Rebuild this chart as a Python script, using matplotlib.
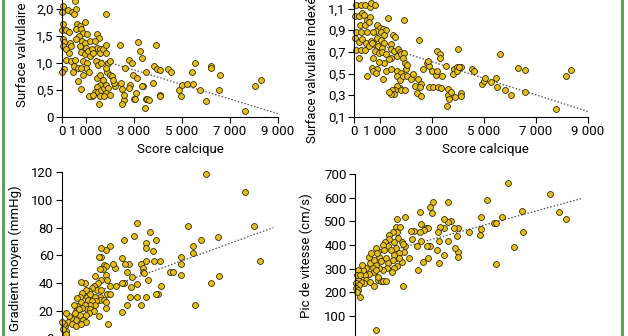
import matplotlib
matplotlib.use("Agg")
import matplotlib.pyplot as plt
from matplotlib.lines import Line2D

plt.rcParams['font.family'] = ['Roboto', 'DejaVu Sans']

# Surface valvulaire vs score calcique
score_sa = [40, 10, 40, 10, 40, 70, 40, 180, 80, 10,
            250, 430, 530, 570, 500, 180, 280, 320, 390, 180, 290, 390, 530, 490, 460,
            670, 670, 810, 630, 740, 570, 810, 880, 950, 710, 600, 850, 740, 950, 1020,
            810, 950, 1050, 1160, 1090, 1160, 880, 1050, 990, 1130, 810, 880,
            1460, 1550, 1370, 1440, 1600, 1270, 1300, 1570, 1710, 1850, 1830, 1850, 1410, 1500, 1640,
            1920, 1990, 1880, 1830, 1990, 2100, 1440, 1570, 1710, 1570, 1440, 1370, 1500, 1640, 1740,
            1850, 1920, 1850, 1570, 1230, 1130, 1300, 1740, 1550, 1990, 2200, 2160, 2130,
            2410, 2440, 2520, 2620, 2580, 2510, 2590, 2800, 2830, 2800, 2900, 2940, 3000, 3040, 3080,
            3110, 3180, 3250, 3320, 3390, 3320, 3500, 3520, 3550, 3470, 3610, 3800, 3910, 3830, 3940,
            4080, 4080, 4080,
            4430, 4530, 4890, 4950, 5000, 5200, 5450, 5410, 5560, 5750, 5990,
            6200, 6200, 6590, 6550, 7630, 8050, 8290]
sa = [2.06, 1.95, 1.72, 1.60, 1.45, 1.39, 1.31, 1.06, 0.88, 0.84,
      1.97, 1.94, 2.14, 2.00, 1.90, 1.60, 1.57, 1.37, 1.31, 1.25, 1.19, 1.03, 1.06, 0.94, 0.84,
      0.91, 0.66, 0.51, 1.72, 1.69, 1.63, 1.63, 1.56, 1.76, 1.50, 1.44, 1.41, 1.31, 1.37, 1.28,
      1.20, 1.16, 1.53, 1.41, 1.22, 1.13, 1.03, 1.00, 0.91, 0.84, 0.91, 0.78,
      1.54, 1.47, 1.41, 1.28, 1.26, 1.26, 1.19, 1.19, 1.25, 1.34, 1.19, 1.91, 1.03, 0.97, 1.00,
      1.00, 1.03, 0.84, 0.91, 0.78, 0.76, 0.72, 0.78, 0.69, 0.59, 0.56, 0.47, 0.47, 0.50, 0.53,
      0.59, 0.53, 0.44, 0.38, 0.38, 0.38, 0.41, 0.38, 0.24, 0.41, 0.58, 0.63, 0.69,
      1.34, 0.63, 0.51, 0.91, 0.31, 0.24, 0.41, 1.06, 0.59, 0.53, 1.00, 0.78, 0.34, 0.33, 0.45,
      0.72, 1.39, 1.22, 1.09, 0.58, 0.58, 0.84, 0.33, 0.34, 0.17, 0.31, 0.63, 1.34, 0.94, 0.88,
      0.86, 0.41, 0.38,
      0.88, 0.84, 0.49, 0.38, 0.59, 0.61, 0.61, 0.83, 1.00, 0.50, 0.30,
      0.94, 0.91, 0.78, 0.49, 0.11, 0.58, 0.69]
sa_fit_x = [1000, 9000]
sa_fit_y = [1.14, 0.06]

# Surface valvulaire indexée vs score calcique
score_sai = [60, 260, 410, 620, 670, 800,
             40, 190, 320, 390, 510, 620, 1310, 1920,
             230, 410, 580, 870, 1000, 1130, 1220, 830, 1030,
             60, 260, 510, 740, 1150, 1510, 1560, 30, 190, 320, 450, 640, 900, 1030, 1150,
             770, 920, 1090, 2500,
             60, 260, 410, 580, 710, 800, 960, 1090, 1220, 1410, 1440, 1540, 1690, 1770, 1670,
             1820, 1920, 1900, 1950, 1440, 1350, 1150, 960, 720, 190, 3210, 3310, 3310, 4000,
             710, 900, 740, 830, 1220, 1440, 1670, 1820, 510, 1130, 1640, 1770, 1900, 2050,
             2180, 2270, 1990, 2050, 1770, 1640, 1560, 1470, 1820, 1950, 1540, 1440, 1350,
             2330, 2460, 2560, 2540, 2440, 2590, 2670, 2800, 2890, 3010, 2850, 2890, 3050, 3230,
             3330, 3140, 3180, 3400, 3530, 3620, 3620, 3560, 3720, 3650, 3850, 3870, 3970, 4100,
             3820, 4100, 4100, 3950, 4040, 4550, 4620,
             4940, 5000, 5030, 5260, 5450, 5510, 5620, 5800, 6050, 6310, 6560, 6560, 7780, 8140,
             8330]
sai = [1.13, 1.13, 1.13, 1.11, 1.15, 1.13,
       1.03, 1.03, 1.06, 1.04, 0.99, 1.02, 1.01, 0.99,
       0.95, 0.95, 0.98, 0.95, 0.92, 0.91, 0.90, 0.89, 0.88,
       0.88, 0.88, 0.88, 0.88, 0.86, 0.86, 0.84, 0.83, 0.79, 0.82, 0.78, 0.80, 0.83, 0.81, 0.78,
       0.77, 0.75, 0.74, 0.81,
       0.72, 0.72, 0.72, 0.75, 0.78, 0.71, 0.69, 0.70, 0.68, 0.77, 0.73, 0.71, 0.73, 0.70, 0.66,
       0.68, 0.69, 0.64, 0.60, 0.64, 0.63, 0.60, 0.61, 0.64, 0.64, 0.71, 0.68, 0.64, 0.73,
       0.55, 0.54, 0.52, 0.51, 0.52, 0.54, 0.52, 0.51, 0.48, 0.45, 0.48, 0.44, 0.48, 0.48,
       0.45, 0.50, 0.54, 0.58, 0.37, 0.39, 0.35, 0.35, 0.35, 0.35, 0.31, 0.31, 0.33,
       0.39, 0.45, 0.40, 0.38, 0.32, 0.29, 0.54, 0.60, 0.57, 0.52, 0.62, 0.38, 0.38, 0.38,
       0.37, 0.49, 0.52, 0.48, 0.57, 0.36, 0.30, 0.20, 0.33, 0.27, 0.54, 0.28, 0.56, 0.56,
       0.50, 0.32, 0.29, 0.52, 0.56, 0.54, 0.52,
       0.40, 0.43, 0.46, 0.42, 0.46, 0.38, 0.68, 0.35, 0.30, 0.55, 0.53, 0.33, 0.17, 0.48,
       0.53]
sai_fit_x = [900, 9000]
sai_fit_y = [0.77, 0.15]

# Gradient moyen vs score calcique
score_grad = [5990, 7630, 7980, 8260, 5240, 6520, 5780, 5450, 5470, 4950, 4950, 4950, 6200,
              6560, 5540, 4500, 4610,
              3110, 3660, 3910, 3480, 3010, 2580, 3800, 3500, 4080, 3830, 3520, 3290, 3390, 3390,
              3410, 3590, 4110, 4010, 3910, 3520, 3130, 3290, 3130, 2860, 2900, 2830, 2690, 2480,
              2690, 2800, 2480, 2620, 2580, 2520, 2200, 2130, 2240,
              1990, 1850, 1620, 1640, 1550, 1740, 1830, 1710, 1570, 1850, 1640, 1880, 2020, 1370,
              1500, 1320, 1440, 1640, 1880, 2020, 1600, 1370, 1570, 1410, 1740, 1850, 1830, 1920,
              1550, 1270, 1130, 1050, 1180, 1090, 1230, 1370, 1160,
              950, 810, 990, 850, 740, 630, 810, 950, 1050, 1180, 1320, 1130, 990, 850, 630, 490,
              570, 740, 880, 1020, 600, 390, 290, 150, 250, 430, 600, 810, 110, 180, 70, 150, 530,
              710, 40, 20]
grad = [119, 106, 81, 56, 81, 73, 71, 67, 62, 59, 54, 46, 40,
        45, 24, 48, 48,
        83, 77, 71, 69, 74, 71, 63, 65, 56, 56, 56, 54, 51, 48,
        47, 42, 38, 32, 32, 30, 30, 24, 39, 37, 44, 30, 24, 19,
        48, 54, 58, 54, 40, 40, 51, 54, 38,
        67, 64, 65, 59, 59, 53, 52, 50, 50, 46, 42, 42, 38, 45,
        40, 38, 35, 35, 32, 32, 30, 30, 28, 27, 28, 26, 22, 10,
        16, 36, 34, 30, 32, 28, 27, 24, 24,
        40, 41, 35, 33, 30, 29, 26, 24, 21, 21, 20, 18, 17, 22, 23, 24,
        20, 17, 13, 12, 13, 15, 16, 18, 12, 10, 9, 10, 9, 5, 10, 3, 18,
        21, 7, 12]
grad_fit_x = [1500, 8800]
grad_fit_y = [34, 80]

# Pic de vitesse vs score calcique
score_vmax = [5870, 7510, 7860, 8120, 6410, 6470, 6130, 5420, 5080, 4850, 4850, 4820, 5360, 5420,
              5650, 4400, 3970, 3920, 3950, 3970, 3860, 3800, 3690, 3560, 3560, 3560, 3440, 3410,
              3280, 3240, 3210, 3440, 3140, 3240,
              2990, 2900, 2950, 2730, 2800, 2670, 2540, 2510, 2510, 2860, 2800, 2900, 2770, 2540,
              2380, 2410, 2600, 2280, 2150, 2180, 1920, 1920, 1800, 1870, 2090, 1830,
              1620, 1580, 1740, 1620, 1670, 1490, 1580, 1710, 1580, 1800, 1620, 1710, 1450, 1320,
              1320, 1150, 1260, 1380, 1490, 1450, 1490, 1410, 1060, 1100, 940, 870, 810, 850, 1000,
              1190, 1280, 1230, 1060, 940,
              810, 680, 590, 740, 550, 620, 720, 550, 390, 420, 300, 260, 100, 420, 590, 360, 230,
              100, 80, 210, 40, 170, 40, 130, 210, 870, 1000, 1060, 1190, 720, 1830, 80, 810, 810,
              870]
vmax = [661, 616, 541, 510, 544, 454, 392, 318, 590, 520, 468, 442, 492, 492,
        520, 454, 473, 440, 372, 351, 386, 473, 501, 498, 417, 580, 473, 510,
        478, 417, 456, 358, 379, 323,
        580, 562, 534, 470, 473, 463, 487, 541, 456, 397, 344, 397, 397, 417,
        397, 294, 330, 459, 459, 425, 520, 397, 411, 372, 347, 403,
        510, 478, 478, 456, 428, 411, 389, 365, 344, 327, 313, 347, 456, 442,
        425, 414, 397, 379, 358, 337, 302, 287, 400, 379, 351, 375, 389, 365, 333,
        344, 323, 302, 294, 305,
        316, 302, 323, 337, 351, 365, 288, 277, 274, 302, 294, 316, 294, 252, 245, 238, 245,
        259, 274, 274, 238, 231, 220, 210, 182, 252, 249, 249, 248, 228, 228, 203, 42, 294,
        266]
vmax_fit_x = [1500, 8760]
vmax_fit_y = [380, 598]

xticks = [0, 1000, 3000, 5000, 7000, 9000]
xtick_labels = ['0', '1 000', '3 000', '5 000', '7 000', '9 000']

DOT = '#e6bf1c'
EDGE = '#352c00'
FIT = '#505050'
FS = 9.5


def scatter_panel(ax, x, y, fx, fy):
    ax.plot(fx, fy, linestyle=(0, (1.2, 1.5)), color=FIT, lw=0.9, zorder=1)
    ax.scatter(x, y, s=18, c=DOT, edgecolors=EDGE, linewidths=0.6, zorder=2, clip_on=False)
    for side in ('top', 'right'):
        ax.spines[side].set_visible(False)
    for side in ('left', 'bottom'):
        ax.spines[side].set_linewidth(0.8)
    ax.tick_params(direction='out', length=4, width=0.8, labelsize=FS, pad=2)
    ax.set_xlim(0, 9000)


fig = plt.figure(figsize=(6.28, 3.36), dpi=100)

ax1 = fig.add_axes([0.0987, 0.652, 0.344, 0.402])
scatter_panel(ax1, score_sa, sa, sa_fit_x, sa_fit_y)
ax1.set_ylim(0, 2.5)
ax1.set_yticks([0, 0.5, 1.0, 1.5, 2.0])
ax1.set_yticklabels(['0', '0,5', '1,0', '1,5', '2,0'])
ax1.set_xticks(xticks)
ax1.set_xticklabels(xtick_labels)
ax1.set_xlabel('Score calcique', fontsize=FS)
ax1.xaxis.set_label_coords(0.55, -0.19)
ax1.text(-0.185, 0.07, 'Surface valvulaire (cm²)', rotation=90, ha='center', va='bottom',
         fontsize=FS, transform=ax1.transAxes)

ax2 = fig.add_axes([0.5637, 0.652, 0.3726, 0.387])
scatter_panel(ax2, score_sai, sai, sai_fit_x, sai_fit_y)
ax2.set_ylim(0.1, 1.3)
ax2.set_yticks([0.1, 0.3, 0.5, 0.7, 0.9, 1.1])
ax2.set_yticklabels(['0,1', '0,3', '0,5', '0,7', '0,9', '1,1'])
ax2.set_xticks(xticks)
ax2.set_xticklabels(xtick_labels)
ax2.set_xlabel('Score calcique', fontsize=FS)
ax2.xaxis.set_label_coords(0.56, -0.2)
ax2.text(-0.18, -0.2, 'Surface valvulaire indexée (cm²/m²)', rotation=90, ha='center',
         va='bottom', fontsize=FS, transform=ax2.transAxes)

ax3 = fig.add_axes([0.0987, -0.0068, 0.344, 0.494])
scatter_panel(ax3, score_grad, grad, grad_fit_x, grad_fit_y)
ax3.set_ylim(0, 120)
ax3.set_yticks([0, 20, 40, 60, 80, 100, 120])
ax3.set_xticks(xticks)
ax3.set_xticklabels(xtick_labels)
ax3.set_ylabel('Gradient moyen (mmHg)', fontsize=FS)
ax3.yaxis.set_label_coords(-0.185, 0.48)

ax4 = fig.add_axes([0.5653, -0.011, 0.3726, 0.493])
scatter_panel(ax4, score_vmax, vmax, vmax_fit_x, vmax_fit_y)
ax4.set_ylim(0, 700)
ax4.set_yticks([0, 100, 200, 300, 400, 500, 600, 700])
ax4.set_xticks(xticks)
ax4.set_xticklabels(xtick_labels)
ax4.set_ylabel('Pic de vitesse (cm/s)', fontsize=FS)
ax4.yaxis.set_label_coords(-0.18, 0.51)

# green frame edges
for xf in (0.005, 0.990):
    fig.add_artist(Line2D([xf, xf], [0, 1], transform=fig.transFigure, color='#4e9d52', lw=2.0))

fig.savefig('out.png', dpi=100)
